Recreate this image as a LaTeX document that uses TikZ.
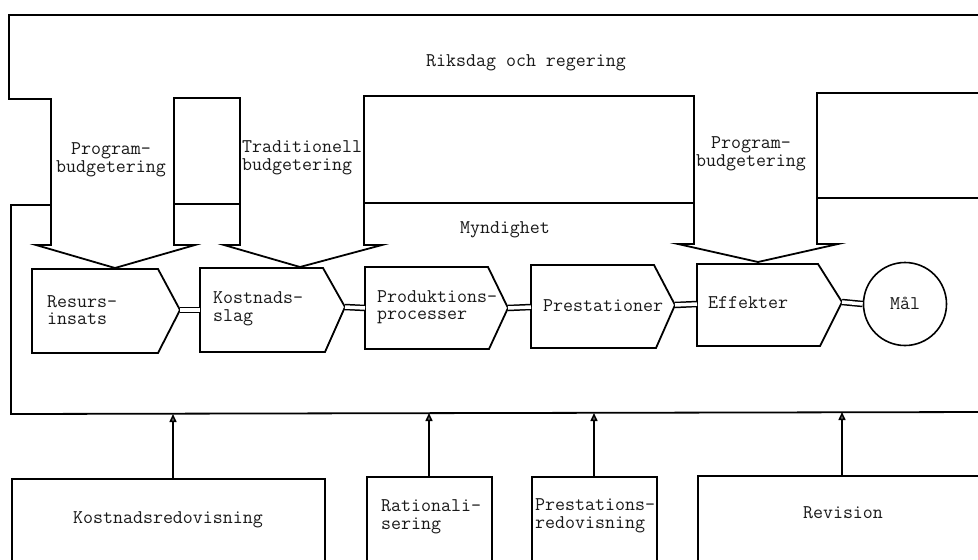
\documentclass[tikz,border=0pt]{standalone}
\usepackage{fontspec}
\usetikzlibrary{arrows.meta}
\begin{document}
\begin{tikzpicture}[x=1pt,y=-1pt,
  ln/.style={line width=1.8pt, line join=miter, line cap=rect},
  lbl/.style={font=\ttfamily\fontsize{19.4}{17.5}\selectfont, inner sep=0pt, align=left, text=black!90},
  dbl/.style={double, double distance=3.5pt, line width=1.5pt},
  uparr/.style={line width=1.5pt, -{Triangle[length=8pt,width=7pt,fill=gray!80!black]}, draw=black}
]
\useasboundingbox (0,0) rectangle (978,560);
\clip (0,0) rectangle (978,560);
\fill[white] (0,0) rectangle (978,560);

% Riksdag och regering outline with downward arrows
\draw[ln] (990,15) -- (9,15) -- (9,99) -- (51,99) -- (51,245) -- (36,245) -- (115,268)
  -- (195,245) -- (174,245) -- (174,98) -- (240,98) -- (240,245) -- (224,245) -- (300,267)
  -- (382,245) -- (364,245) -- (364,96) -- (694,96) -- (694,244) -- (678,244) -- (758,262)
  -- (838,244) -- (817,244) -- (817,93) -- (990,93);

% Myndighet outline
\draw[ln] (990,198) -- (817,198);
\draw[ln] (694,203) -- (364,203);
\draw[ln] (240,204) -- (174,204);
\draw[ln] (51,205) -- (11,205) -- (11,414) -- (990,412);

\node[lbl] (riks) at (526,63) {Riksdag och regering};
\node[lbl] (mynd) at (505,230) {Myndighet};
\node[lbl, align=center] (pb1) at (111,160) {Program-\\budgetering};
\node[lbl, anchor=west] (tb) at (242,158) {Traditionell\\budgetering};
\node[lbl, align=center] (pb2) at (751,154) {Program-\\budgetering};

% process shapes
\draw[ln] (32,269) -- (158,269) -- (180,310) -- (158,353) -- (32,353) -- cycle;
\coordinate (s1e) at (180,310);
\draw[ln] (200,268) -- (323,268) -- (345,307) -- (325,352) -- (200,352) -- cycle;
\coordinate (s2w) at (200,310);
\coordinate (s2e) at (345,307);
\draw[ln] (365,267) -- (488,267) -- (508,308) -- (489,349) -- (365,349) -- cycle;
\coordinate (s3w) at (365,308);
\coordinate (s3e) at (508,308);
\draw[ln] (531,265) -- (654,265) -- (675,305) -- (656,348) -- (531,348) -- cycle;
\coordinate (s4w) at (531,307);
\coordinate (s4e) at (675,305);
\draw[ln] (697,264) -- (818,264) -- (842,302) -- (820,346) -- (697,346) -- cycle;
\coordinate (s5w) at (697,304);
\coordinate (s5e) at (842,302);
\node[line width=1.6pt, draw, circle, minimum size=83pt, inner sep=0pt] (mal) at (905,304) {};

\node[lbl, anchor=west] (t1) at (47,310) {Resurs-\\insats};
\node[lbl, anchor=west] (t2) at (213,309) {Kostnads-\\slag};
\node[lbl, anchor=west] (t3) at (377,307) {Produktions-\\processer};
\node[lbl, anchor=west] (t4) at (543,306) {Prestationer};
\node[lbl, anchor=west] (t5) at (708,303) {Effekter};
\node[lbl] at (mal.center) [yshift=1pt] {Mål};

% double connectors
\draw[dbl] (s1e) -- (s2w);
\draw[dbl] (s2e) -- (s3w);
\draw[dbl] (s3e) -- (s4w);
\draw[dbl] (s4e) -- (s5w);
\draw[dbl] (s5e) -- (mal.west);

% bottom boxes
\draw[ln] (12,580) -- (12,479) -- (325,479) -- (325,580);
\draw[ln] (367,580) -- (367,477) -- (492,477) -- (492,580);
\draw[ln] (532,580) -- (532,477) -- (657,477) -- (657,580);
\draw[ln] (698,580) -- (698,476) -- (990,476);
\coordinate (b1) at (173,479);
\coordinate (b2) at (429,477);
\coordinate (b3) at (594,477);
\coordinate (b4) at (842,476);
\coordinate (m1) at (173,414);
\coordinate (m2) at (429,413);
\coordinate (m3) at (594,413);
\coordinate (m4) at (842,412);
\draw[uparr] (b1) -- (m1);
\draw[uparr] (b2) -- (m2);
\draw[uparr] (b3) -- (m3);
\draw[uparr] (b4) -- (m4);

\node[lbl] (kr) at (168,520) {Kostnadsredovisning};
\node[lbl, anchor=west] (ra) at (381,517) {Rationali-\\sering};
\node[lbl, anchor=west] (pr) at (535,516) {Prestations-\\redovisning};
\node[lbl] (rev) at (843,513) {Revision};
\end{tikzpicture}
\end{document}
